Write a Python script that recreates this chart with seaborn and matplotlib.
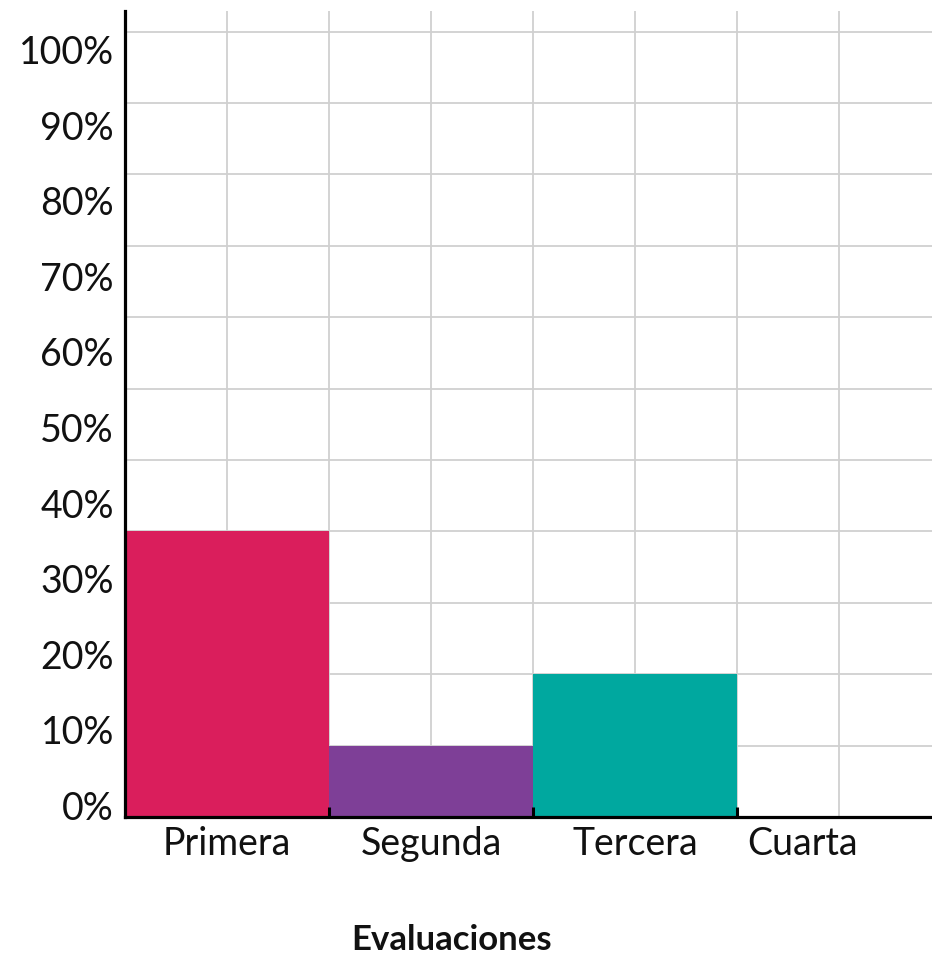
import numpy as np
import matplotlib
matplotlib.use("Agg")
import matplotlib.pyplot as plt
import seaborn as sns

# Datos (en unidades de 10% por línea de cuadrícula)
evaluaciones = ["Primera", "Segunda", "Tercera", "Cuarta"]
porcentajes = [40, 10, 20, 0]
colores = ["#DA1E5C", "#7E3F97", "#00A89F", "#FFFFFF"]
etiquetas_y = ["0%", "10%", "20%", "30%", "40%", "50%", "60%", "70%", "80%", "90%", "100%"]

sns.set_theme(style="white")
plt.rcParams["font.family"] = ["Lato", "DejaVu Sans"]

fig = plt.figure(figsize=(9.32, 9.54), dpi=100)
ax = fig.add_axes([125 / 932, 136 / 954, 807 / 932, 806 / 954])

sns.barplot(x=evaluaciones, y=porcentajes, hue=evaluaciones, palette=colores,
            legend=False, width=1, saturation=1, linewidth=0, ax=ax)

ax.set_xlim(-0.5, 3.456)
ax.set_ylim(0, 112.9)
ax.set_axisbelow(True)

# cuadrícula en ticks menores
ax.xaxis.remove_overlapping_locs = False
ax.set_xticks(np.arange(0, 3.5, 0.5), minor=True)
ax.set_yticks(np.arange(10, 111, 10), minor=True)
ax.grid(which="minor", color="#D0D0D0", linewidth=1.3)
ax.grid(which="major", visible=False)

# etiquetas de los ejes
ax.set_yticks(1.8 + 10.58 * np.arange(len(etiquetas_y)), labels=etiquetas_y)
ax.set_xticks([0, 1, 2, 2.82], labels=evaluaciones)
ax.tick_params(axis="both", which="both", length=0, labelsize=27, colors="#111111")
ax.tick_params(axis="y", pad=8)
ax.tick_params(axis="x", pad=6)

# marcas entre barras
sec = ax.secondary_xaxis("bottom")
sec.set_zorder(4)
sec.set_xticks([0.5, 1.5, 2.5], labels=["", "", ""])
sec.tick_params(direction="in", length=7, width=2.2, color="black")
sec.spines["bottom"].set_visible(False)

for lado in ["top", "right"]:
    ax.spines[lado].set_visible(False)
for lado in ["left", "bottom"]:
    ax.spines[lado].set_color("black")
    ax.spines[lado].set_linewidth(2.3)
    ax.spines[lado].set_zorder(5)

ax.set_ylabel("")
ax.set_xlabel("Evaluaciones", fontsize=25, fontweight="bold", color="#111111")
ax.xaxis.set_label_coords(0.405, -0.131)

plt.savefig("out.png", dpi=100)
